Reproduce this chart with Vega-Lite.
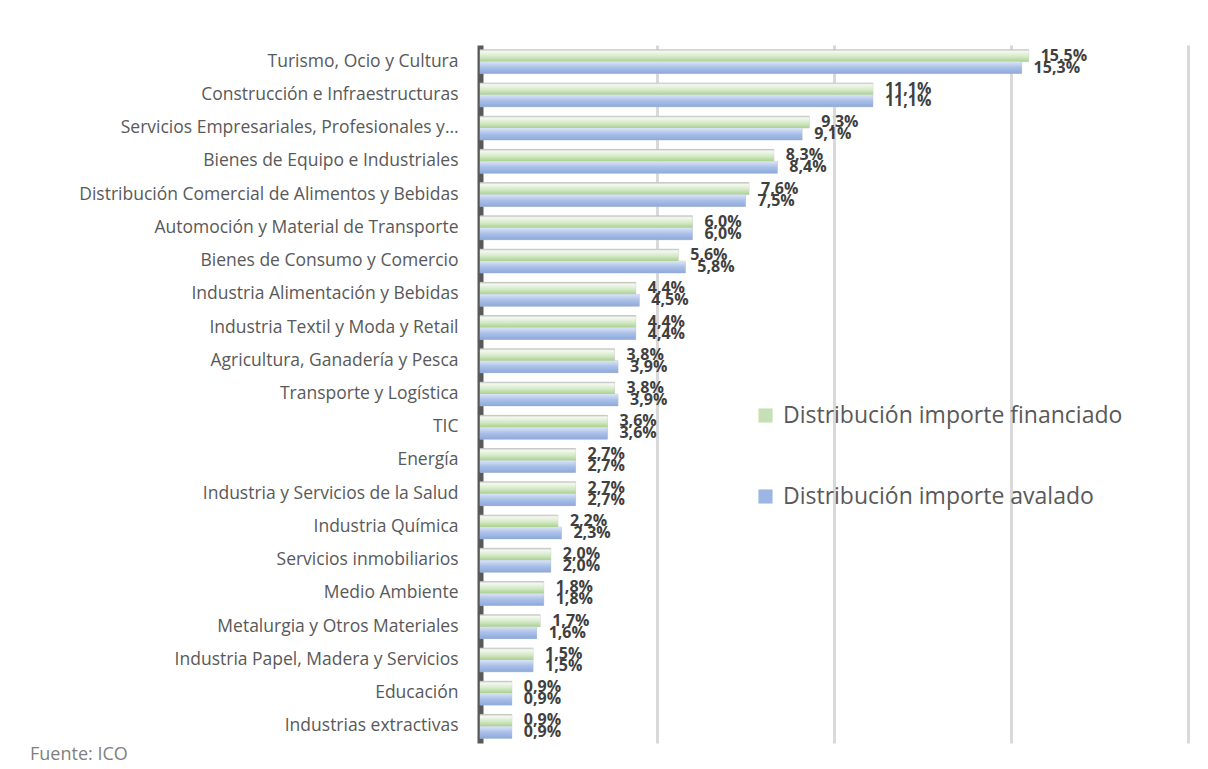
{
  "$schema": "https://vega.github.io/schema/vega-lite/v6.json",
  "width": 708,
  "height": 698,
  "autosize": {"type": "none"},
  "padding": {"left": 480, "top": 45, "right": 20, "bottom": 26},
  "background": "white",
  "config": {
    "view": {"stroke": null},
    "font": "Open Sans",
    "locale": {"number": {"decimal": ",", "thousands": ".", "grouping": [3], "currency": ["", " €"]}}
  },
  "title": {"text": "Fuente: ICO", "orient": "bottom", "anchor": "start", "frame": "group", "dx": -450, "offset": 3, "fontSize": 18, "fontWeight": "normal", "color": "#7f7f7f", "font": "Open Sans"},
  "data": {"values": [
    {"sector": "Turismo, Ocio y Cultura", "serie": "Distribución importe financiado", "valor": 0.155},
    {"sector": "Turismo, Ocio y Cultura", "serie": "Distribución importe avalado", "valor": 0.153},
    {"sector": "Construcción e Infraestructuras", "serie": "Distribución importe financiado", "valor": 0.111},
    {"sector": "Construcción e Infraestructuras", "serie": "Distribución importe avalado", "valor": 0.111},
    {"sector": "Servicios Empresariales, Profesionales y…", "serie": "Distribución importe financiado", "valor": 0.093},
    {"sector": "Servicios Empresariales, Profesionales y…", "serie": "Distribución importe avalado", "valor": 0.091},
    {"sector": "Bienes de Equipo e Industriales", "serie": "Distribución importe financiado", "valor": 0.083},
    {"sector": "Bienes de Equipo e Industriales", "serie": "Distribución importe avalado", "valor": 0.084},
    {"sector": "Distribución Comercial de Alimentos y Bebidas", "serie": "Distribución importe financiado", "valor": 0.076},
    {"sector": "Distribución Comercial de Alimentos y Bebidas", "serie": "Distribución importe avalado", "valor": 0.075},
    {"sector": "Automoción y Material de Transporte", "serie": "Distribución importe financiado", "valor": 0.060},
    {"sector": "Automoción y Material de Transporte", "serie": "Distribución importe avalado", "valor": 0.060},
    {"sector": "Bienes de Consumo y Comercio", "serie": "Distribución importe financiado", "valor": 0.056},
    {"sector": "Bienes de Consumo y Comercio", "serie": "Distribución importe avalado", "valor": 0.058},
    {"sector": "Industria Alimentación y Bebidas", "serie": "Distribución importe financiado", "valor": 0.044},
    {"sector": "Industria Alimentación y Bebidas", "serie": "Distribución importe avalado", "valor": 0.045},
    {"sector": "Industria Textil y Moda y Retail", "serie": "Distribución importe financiado", "valor": 0.044},
    {"sector": "Industria Textil y Moda y Retail", "serie": "Distribución importe avalado", "valor": 0.044},
    {"sector": "Agricultura, Ganadería y Pesca", "serie": "Distribución importe financiado", "valor": 0.038},
    {"sector": "Agricultura, Ganadería y Pesca", "serie": "Distribución importe avalado", "valor": 0.039},
    {"sector": "Transporte y Logística", "serie": "Distribución importe financiado", "valor": 0.038},
    {"sector": "Transporte y Logística", "serie": "Distribución importe avalado", "valor": 0.039},
    {"sector": "TIC", "serie": "Distribución importe financiado", "valor": 0.036},
    {"sector": "TIC", "serie": "Distribución importe avalado", "valor": 0.036},
    {"sector": "Energía", "serie": "Distribución importe financiado", "valor": 0.027},
    {"sector": "Energía", "serie": "Distribución importe avalado", "valor": 0.027},
    {"sector": "Industria y Servicios de la Salud", "serie": "Distribución importe financiado", "valor": 0.027},
    {"sector": "Industria y Servicios de la Salud", "serie": "Distribución importe avalado", "valor": 0.027},
    {"sector": "Industria Química", "serie": "Distribución importe financiado", "valor": 0.022},
    {"sector": "Industria Química", "serie": "Distribución importe avalado", "valor": 0.023},
    {"sector": "Servicios inmobiliarios", "serie": "Distribución importe financiado", "valor": 0.020},
    {"sector": "Servicios inmobiliarios", "serie": "Distribución importe avalado", "valor": 0.020},
    {"sector": "Medio Ambiente", "serie": "Distribución importe financiado", "valor": 0.018},
    {"sector": "Medio Ambiente", "serie": "Distribución importe avalado", "valor": 0.018},
    {"sector": "Metalurgia y Otros Materiales", "serie": "Distribución importe financiado", "valor": 0.017},
    {"sector": "Metalurgia y Otros Materiales", "serie": "Distribución importe avalado", "valor": 0.016},
    {"sector": "Industria Papel, Madera y Servicios", "serie": "Distribución importe financiado", "valor": 0.015},
    {"sector": "Industria Papel, Madera y Servicios", "serie": "Distribución importe avalado", "valor": 0.015},
    {"sector": "Educación", "serie": "Distribución importe financiado", "valor": 0.009},
    {"sector": "Educación", "serie": "Distribución importe avalado", "valor": 0.009},
    {"sector": "Industrias extractivas", "serie": "Distribución importe financiado", "valor": 0.009},
    {"sector": "Industrias extractivas", "serie": "Distribución importe avalado", "valor": 0.009}
  ]},
  "encoding": {
    "y": {"field": "sector", "type": "nominal", "sort": null,
      "scale": {"paddingInner": 0.28, "paddingOuter": 0.14},
      "axis": {"title": null, "labelFontSize": 17.5, "labelColor": "#595959", "labelPadding": 22, "labelLimit": 470, "ticks": false, "domainColor": "#595959", "domainWidth": 6, "labelFont": "Open Sans"}},
    "yOffset": {"field": "serie", "type": "nominal", "sort": null,
      "scale": {"domain": ["Distribución importe financiado", "Distribución importe avalado"], "paddingInner": 0, "paddingOuter": 0}},
    "x": {"field": "valor", "type": "quantitative",
      "scale": {"domain": [0, 0.2], "nice": false},
      "axis": {"title": null, "labels": false, "ticks": false, "domain": false, "values": [0.05, 0.1, 0.15, 0.2], "gridColor": "#d9d9d9", "gridWidth": 3}}
  },
  "layer": [
    {
      "mark": {"type": "bar", "stroke": "#bfbfbf", "strokeWidth": 0.5},
      "encoding": {
        "color": {"field": "serie", "type": "nominal", "sort": null,
          "scale": {"domain": ["Distribución importe financiado", "Distribución importe avalado"], "range": ["#c5e0b4", "#9db5e3"]},
          "legend": {"title": null, "orient": "none", "legendX": 274, "legendY": 359, "labelFontSize": 23, "labelColor": "#595959", "symbolType": "square", "symbolSize": 200, "symbolStrokeWidth": 0, "rowPadding": 57, "labelOffset": 6, "labelLimit": 500, "labelFont": "Open Sans"}}
      }
    },
    {
      "mark": {"type": "bar"},
      "encoding": {
        "color": {
          "condition": {"test": "datum.serie === 'Distribución importe financiado'",
            "value": {"gradient": "linear", "x1": 0, "y1": 0, "x2": 0, "y2": 1, "stops": [{"offset": 0, "color": "#bfbfbf"}, {"offset": 0.15, "color": "#f4f9f0"}, {"offset": 0.6, "color": "#d3e8c5"}, {"offset": 1, "color": "#a9d18e"}]}},
          "value": {"gradient": "linear", "x1": 0, "y1": 0, "x2": 0, "y2": 1, "stops": [{"offset": 0, "color": "#dbe5f6"}, {"offset": 0.5, "color": "#a9bfe8"}, {"offset": 1, "color": "#8eaadb"}]}
        }
      }
    },
    {
      "mark": {"type": "text", "align": "left", "baseline": "middle", "dx": 12, "fontSize": 16, "fontWeight": "bold", "color": "#404040", "font": "Open Sans"},
      "encoding": {
        "text": {"field": "valor", "type": "quantitative", "format": ".1%"}
      }
    }
  ]
}
